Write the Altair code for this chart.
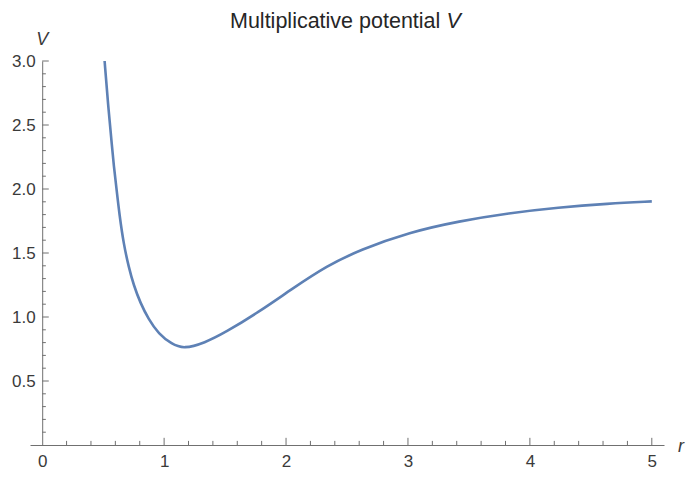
import altair as alt
import pandas as pd

# ---- data ----
r_vals = [0.512, 0.539, 0.575, 0.588, 0.607, 0.634, 0.669, 0.710, 0.750, 0.805,
          0.872, 0.954, 1.063, 1.160, 1.333, 1.500, 1.770, 2.050, 2.336, 2.607,
          3.014, 3.420, 3.827, 4.233, 4.640, 5.0]
v_vals = [3.0, 2.67, 2.31, 2.175, 2.023, 1.795, 1.567, 1.389, 1.250, 1.110,
          0.983, 0.869, 0.788, 0.750, 0.798, 0.878, 1.035, 1.220, 1.400, 1.525,
          1.663, 1.749, 1.812, 1.856, 1.886, 1.903]

x_label_vals = [0, 1, 2, 3, 4, 5]
x_major = [1, 2, 3, 4, 5]
x_minor = [0.2, 0.4, 0.6, 0.8, 1.2, 1.4, 1.6, 1.8, 2.2, 2.4, 2.6, 2.8,
           3.2, 3.4, 3.6, 3.8, 4.2, 4.4, 4.6, 4.8]
y_major = [0.5, 1.0, 1.5, 2.0, 2.5, 3.0]
y_minor = [0.1, 0.2, 0.3, 0.4, 0.6, 0.7, 0.8, 0.9, 1.1, 1.2, 1.3, 1.4,
           1.6, 1.7, 1.8, 1.9, 2.1, 2.2, 2.3, 2.4, 2.6, 2.7, 2.8, 2.9]

title_main = ["Multiplicative potential"]
title_var = ["V"]
x_title = ["r"]
y_title = ["V"]

# ---- style ----
FONT = "Liberation Sans"
AX = "#707070"
LBL = "#3a3a3a"
TC = "#262626"
LINE = "#5E81B5"
W, H = 634, 384
X_DOM = [-0.1, 5.1]
Y_DOM = [0, 3]

xs = alt.Scale(domain=X_DOM, nice=False, zero=False)
ys = alt.Scale(domain=Y_DOM, nice=False, zero=False)

axis_x = alt.Axis(values=x_label_vals, title=None, grid=False, ticks=False, tickSize=0,
                  domainColor=AX, domainWidth=1, labelFontSize=17, labelFont=FONT,
                  labelColor=LBL, labelPadding=8, labelFlush=False, labelOverlap=False)
axis_y = alt.Axis(values=y_major, format=".1f", title=None, grid=False, ticks=False,
                  tickSize=0, offset=-(W / 52.0), domainColor=AX, domainWidth=1,
                  labelFontSize=17, labelFont=FONT, labelColor=LBL, labelPadding=7,
                  labelOverlap=False)

curve = pd.DataFrame({"r": r_vals, "V": v_vals})

line = alt.Chart(curve).mark_line(
    color=LINE, strokeWidth=2.6, interpolate="basis", clip=True
).encode(
    x=alt.X("r:Q", scale=xs, axis=axis_x),
    y=alt.Y("V:Q", scale=ys, axis=axis_y),
)


def xticks(vals, length):
    return alt.Chart(pd.DataFrame({"t": vals})).mark_rule(color=AX, strokeWidth=1).encode(
        x=alt.X("t:Q", scale=xs, axis=axis_x),
        y=alt.YDatum(0, scale=ys, axis=axis_y),
        y2=alt.datum(length),
    )


def yticks(vals, length):
    return alt.Chart(pd.DataFrame({"t": vals})).mark_rule(color=AX, strokeWidth=1).encode(
        y=alt.Y("t:Q", scale=ys, axis=axis_y),
        x=alt.XDatum(0, scale=xs, axis=axis_x),
        x2=alt.datum(length),
    )


xt_major = xticks(x_major, 0.056)
xt_minor = xticks(x_minor, 0.032)
yt_major = yticks(y_major, 0.054)
yt_minor = yticks(y_minor, 0.03)

t_main = alt.Chart(pd.DataFrame({"s": title_main})).mark_text(
    align="left", baseline="alphabetic", fontSize=21.5, font=FONT, color=TC
).encode(text="s:N", x=alt.value(200), y=alt.value(-33))

t_var = alt.Chart(pd.DataFrame({"s": title_var})).mark_text(
    align="left", baseline="alphabetic", fontSize=21.5, font=FONT, color=TC, fontStyle="italic"
).encode(text="s:N", x=alt.value(416.5), y=alt.value(-33))

y_lab = alt.Chart(pd.DataFrame({"s": y_title})).mark_text(
    align="center", baseline="alphabetic", fontSize=18, font=FONT, color=LBL,
    fontStyle="italic", dy=-16
).encode(text="s:N", x=alt.XDatum(0, scale=xs, axis=axis_x),
         y=alt.YDatum(3, scale=ys, axis=axis_y))

x_lab = alt.Chart(pd.DataFrame({"s": x_title})).mark_text(
    align="center", baseline="alphabetic", fontSize=18, font=FONT, color=LBL,
    fontStyle="italic", dx=17, dy=7
).encode(text="s:N", x=alt.XDatum(5.1, scale=xs, axis=axis_x),
         y=alt.YDatum(0, scale=ys, axis=axis_y))

chart = alt.layer(
    xt_minor, xt_major, yt_minor, yt_major, line, t_main, t_var, y_lab, x_lab
).properties(
    width=W, height=H,
    autosize=alt.AutoSizeParams(type="none"),
    padding={"left": 22, "top": 53, "right": 22, "bottom": 26},
    background="white",
).configure_view(stroke=None)

chart.save("out.html", embed_options={"renderer": "svg", "actions": False})
